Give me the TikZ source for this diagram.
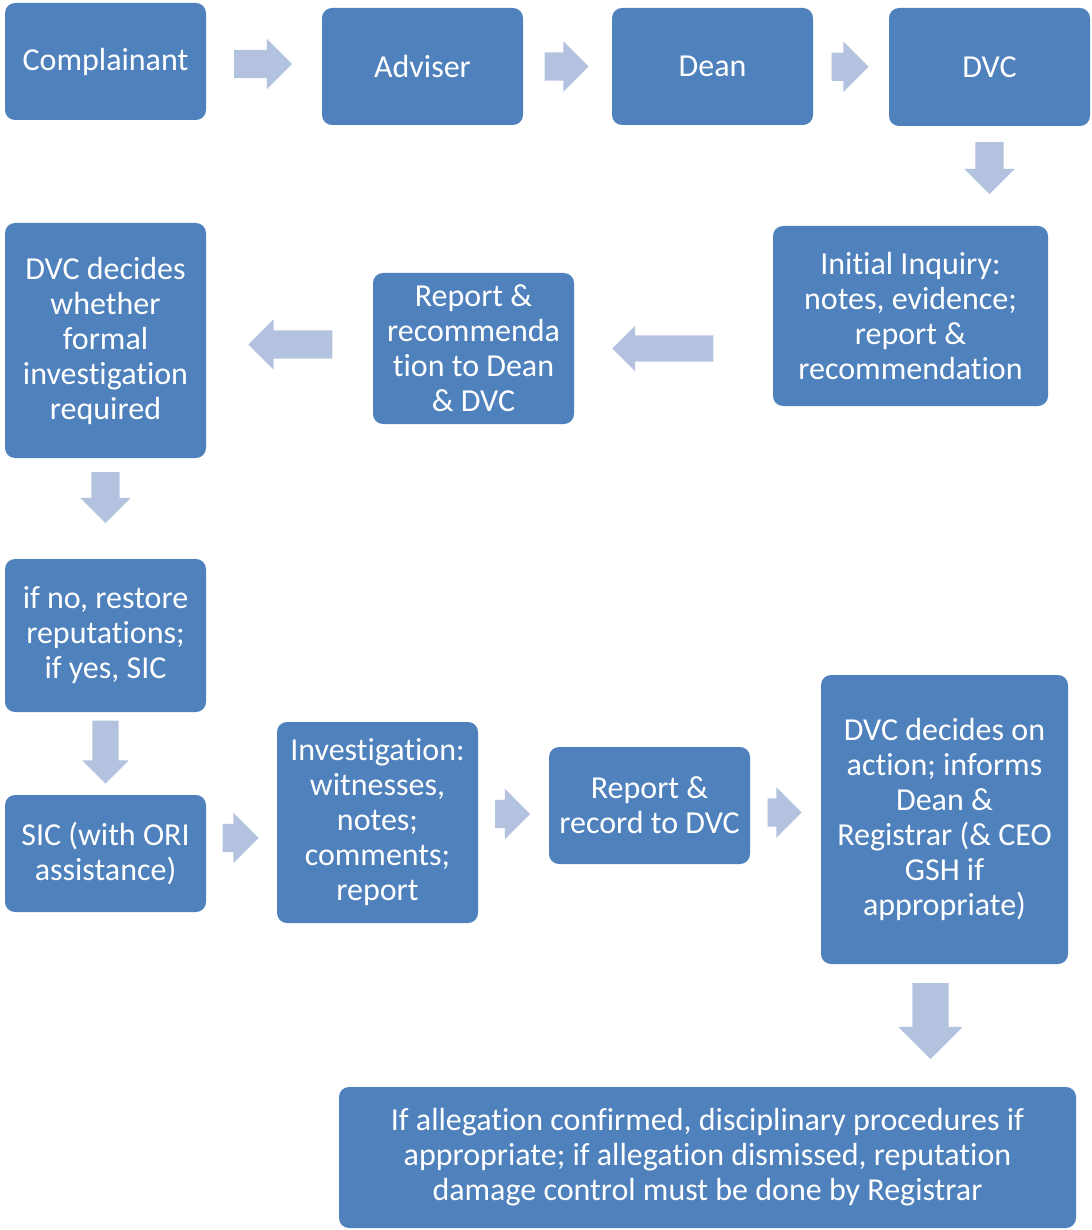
\documentclass[tikz,border=0pt]{standalone}
\usepackage{fontspec}
\setmainfont[Ligatures={NoCommon,NoRare,NoContextual}, RawFeature={-liga;-clig;-calt;-dlig;-rlig;-ccmp;-hlig}]{Carlito}
\usetikzlibrary{shapes.arrows,calc}
\definecolor{boxblue}{HTML}{4F81BD}
\definecolor{arrowblue}{HTML}{B3C3DF}
\tikzstyle{box} = [rectangle, rounded corners=10pt, fill=boxblue, text=white, align=center, inner sep=0pt, font=\fontsize{32}{35}\selectfont]
\tikzstyle{flow} = [single arrow, fill=arrowblue, inner xsep=0pt, inner ysep=14pt, single arrow head extend=11pt, minimum width=0pt, shift={(#1:-8pt)}, rotate=#1]

\begin{document}
\begin{tikzpicture}[x=1pt, y=-1pt]
\useasboundingbox (0,0) rectangle (1091,1230);
\node[box, minimum width=201pt, minimum height=117pt] (compl) at (105.5,61.5) {Complainant};
\node[box, minimum width=201pt, minimum height=117pt] (adv) at (422.5,66.5) {Adviser};
\node[box, minimum width=201pt, minimum height=117pt] (dean) at (712.5,66.5) {Dean};
\node[box, minimum width=201pt, minimum height=118pt] (dvc) at (989.5,67) {DVC};
\node[box, minimum width=275pt, minimum height=180pt] (inq) at (910.5,316) {Initial Inquiry:\\notes, evidence;\\report \&\\recommendation};
\node[box, minimum width=201pt, minimum height=151pt] (rep) at (473.5,348.5) {Report \&\\recommenda\\tion to Dean\\\& DVC};
\node[box, minimum width=201pt, minimum height=235pt] (decide) at (105.5,340.5) {DVC decides\\whether\\formal\\investigation\\required};
\node[box, minimum width=201pt, minimum height=153pt] (restore) at (105.5,635.5) {if no, restore\\reputations;\\if yes, SIC};
\node[box, minimum width=201pt, minimum height=117pt] (sic) at (105.5,853.5) {SIC (with ORI\\assistance)};
\node[box, minimum width=201pt, minimum height=201pt] (invest) at (377.5,822.5) {Investigation:\\witnesses,\\notes;\\comments;\\report};
\node[box, minimum width=201pt, minimum height=117pt] (record) at (649.5,805.5) {Report \&\\record to DVC};
\node[box, minimum width=247pt, minimum height=289pt] (action) at (944.5,819.5) {DVC decides on\\action; informs\\Dean \&\\Registrar (\& CEO\\GSH if\\appropriate)};
\node[box, minimum width=737pt, minimum height=141pt] (final) at (707.5,1157.5) {If allegation confirmed, disciplinary procedures if\\appropriate; if allegation dismissed, reputation\\damage control must be done by Registrar};

% block arrows between the boxes
\node[flow=0, minimum height=58pt] (a1) at ($(compl.east)!0.5!(adv.west)$) {};
\node[flow=0, minimum height=44pt] (a2) at ($(adv.east)!0.5!(dean.west)$) {};
\node[flow=0, minimum height=37pt] (a3) at ($(dean.east)!0.5!(dvc.west)$) {};
\node[flow=270, minimum height=52pt] (a4) at ($(dvc.south)!0.43!(dvc.south |- inq.north)$) {};
\node[flow=180, minimum height=101pt, inner ysep=13pt, single arrow head extend=9.5pt] (a5) at ($(rep.east)!0.44!(inq.west |- rep.east)$) {};
\node[flow=180, minimum height=84pt] (a6) at ($(rep.west)!0.5!(decide.east)$) {};
\node[flow=270, minimum height=51pt] (a7) at ($(decide.south)!0.4!(restore.north)$) {};
\node[flow=270, minimum height=63pt, inner ysep=13pt, single arrow head extend=10pt] (a8) at ($(restore.south)!0.5!(sic.north)$) {};
\node[flow=0, minimum height=36pt] (a9) at ($(sic.east)!0.5!(invest.west)$) {};
\node[flow=0, minimum height=35pt] (a10) at ($(invest.east)!0.5!(record.west)$) {};
\node[flow=0, minimum height=34pt] (a11) at ($(record.east)!0.5!(action.west)$) {};
\node[flow=270, minimum height=76pt, inner ysep=18pt, single arrow head extend=14pt] (a12) at ($(action.south)!0.455!(action.south |- final.north)+(-14,0)$) {};
\end{tikzpicture}
\end{document}
